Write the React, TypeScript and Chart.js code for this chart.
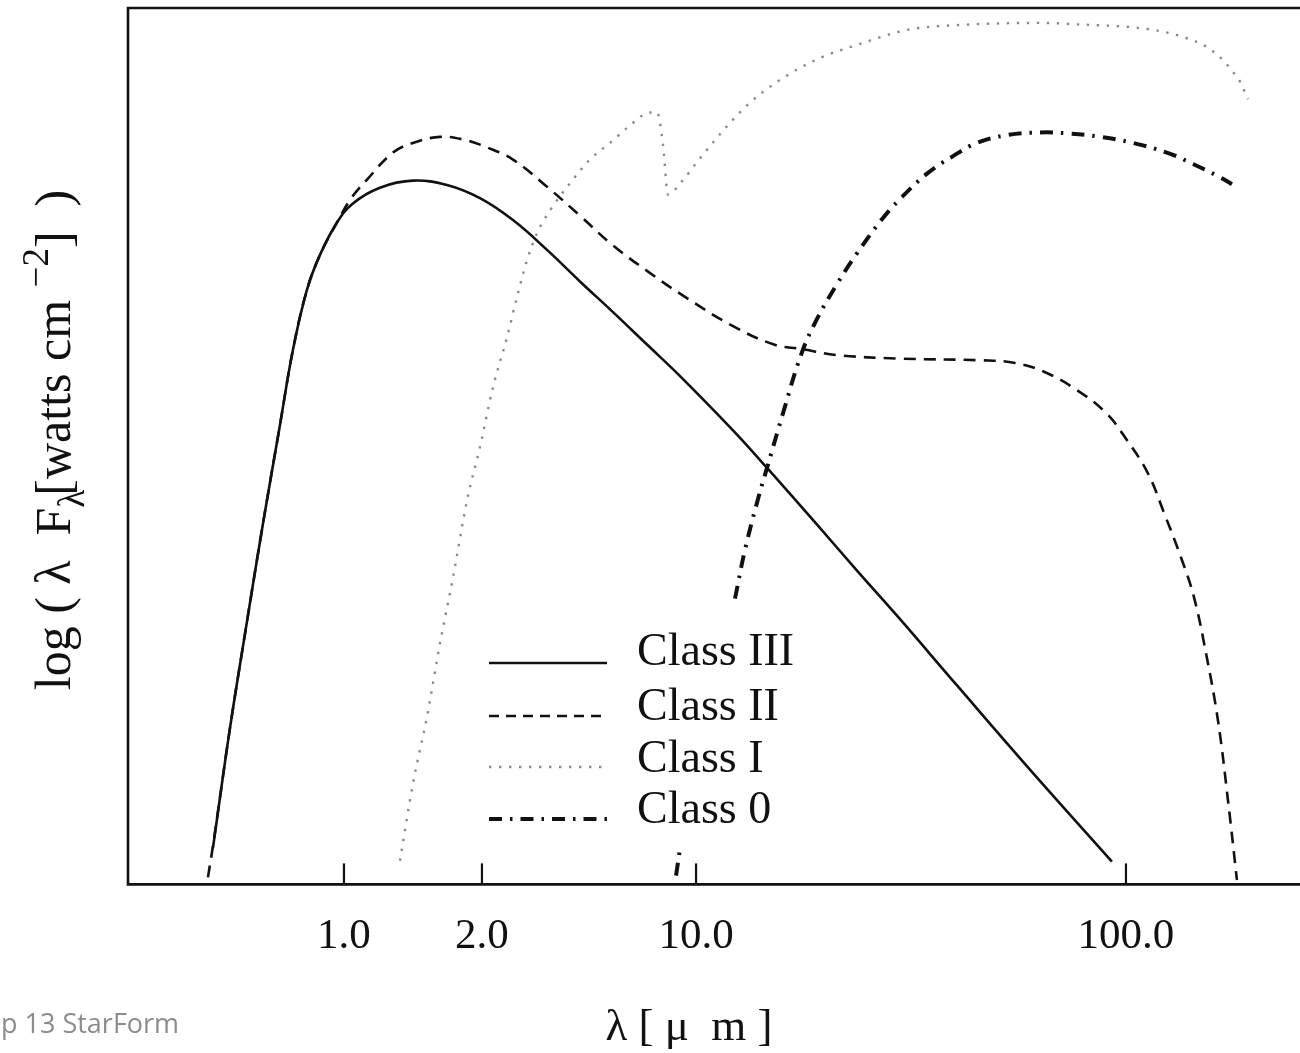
import React, { useEffect, useRef } from 'react';
import { Chart, registerables } from 'chart.js';

Chart.register(...registerables);

// ---------- data ----------
const SERIES_NAMES = ['Class III', 'Class II', 'Class I', 'Class 0'];

// wavelength axis ticks (µm) and their labels
const TICK_VALUES = [1, 2, 10, 100];
const TICK_LABELS = ['1.0', '2.0', '10.0', '100.0'];
// the drawn axis is not a uniform log axis: where each tick sits, in "decades" of the 10–100 interval
const TICK_DECADES = [0, 0.321, 0.819, 1.819];
const X_MIN = 0.338;
const X_MAX = 254;
const Y_MIN = 0;
const Y_MAX = 10;

const CLASS3_X = [0.518, 0.564, 0.614, 0.666, 0.725, 0.774, 0.83, 0.886, 0.965, 1.046, 1.198, 1.414, 1.677, 1.98, 2.525, 3.262, 4.178, 5.356, 6.917, 8.866, 12.19, 14.7, 19.01, 23.68, 29.65, 40.46, 59.8, 92.77];
const CLASS3_Y = [0.42, 1.78, 2.99, 4.12, 5.24, 6.1, 6.78, 7.18, 7.55, 7.77, 7.95, 8.03, 7.98, 7.83, 7.58, 7.24, 6.88, 6.53, 6.16, 5.8, 5.18, 4.74, 4.12, 3.58, 3.04, 2.27, 1.31, 0.26];

const CLASS2_X = [0.505, 0.52, 0.564, 0.614, 0.666, 0.725, 0.774, 0.83, 0.886, 0.965, 1.031, 1.122, 1.279, 1.414, 1.62, 1.818, 2.077, 2.525, 3.262, 4.178, 5.356, 6.917, 8.866, 12.19, 15.18, 17.54, 21.28, 29.65, 46.26, 55.19, 64.46, 76.91, 89.86, 100.5, 112.5, 122.6, 134.3, 143.9, 153.5, 163.7, 172.7, 181.2];
const CLASS2_Y = [0.08, 0.5, 1.78, 2.99, 4.12, 5.24, 6.1, 6.78, 7.18, 7.55, 7.81, 8.04, 8.35, 8.46, 8.53, 8.5, 8.41, 8.27, 7.96, 7.63, 7.29, 7.0, 6.74, 6.37, 6.16, 6.11, 6.04, 6.0, 5.98, 5.95, 5.85, 5.64, 5.38, 5.07, 4.69, 4.24, 3.73, 3.28, 2.64, 1.87, 0.96, 0.05];

const CLASS1_X = [1.325, 1.414, 1.517, 1.62, 1.729, 1.855, 1.98, 2.172, 2.413, 2.602, 2.805, 3.025, 3.336, 3.877, 4.505, 5.356, 6.085, 6.917, 7.456, 7.8, 8.098, 8.93, 10.27, 11.8, 13.21, 15.68, 19.43, 24.06, 30.95, 42.67, 63.1, 79.43, 103.8, 121.9, 135.7, 151.1, 165.4, 177.4, 184.2, 192.2];
const CLASS1_Y = [0.27, 1.15, 1.91, 2.75, 3.5, 4.38, 4.99, 5.67, 6.24, 6.7, 7.12, 7.43, 7.69, 8.0, 8.27, 8.49, 8.66, 8.8, 8.81, 8.44, 7.87, 8.01, 8.3, 8.65, 8.9, 9.18, 9.43, 9.59, 9.75, 9.81, 9.83, 9.81, 9.78, 9.73, 9.67, 9.58, 9.44, 9.27, 9.16, 8.96];

const CLASS0_X = [8.603, 8.866, 10.8, 12.32, 13.0, 13.94, 14.7, 15.94, 17.54, 19.01, 21.28, 23.68, 27.07, 29.82, 34.45, 39.6, 45.03, 52.88, 63.1, 72.91, 87.0, 103.8, 124.5, 143.2, 165.4, 176.4];
const CLASS0_Y: (number | null)[] = [0.1, 0.41, null, 3.26, 3.82, 4.4, 4.79, 5.38, 6.04, 6.43, 6.85, 7.2, 7.59, 7.82, 8.11, 8.31, 8.46, 8.55, 8.58, 8.57, 8.53, 8.46, 8.35, 8.22, 8.07, 7.99];

// ---------- styles ----------
const SERIF = '"Liberation Serif", "Times New Roman", "DejaVu Serif", serif';
const STYLES = [
  { color: '#111111', width: 2.6, dash: [] as number[], legendDash: [] as number[], smooth: 'tension' },
  { color: '#111111', width: 2.6, dash: [12, 8], legendDash: [10, 7], smooth: 'tension' },
  { color: '#8a8a8a', width: 2.4, dash: [2.4, 7.6], legendDash: [2.4, 7.6], smooth: 'monotone' },
  { color: '#111111', width: 4, dash: [13, 8, 2.5, 8], legendDash: [13, 8, 2.5, 8], smooth: 'tension' },
];

// axis warp: log10(λ) -> drawn position, piecewise linear through the ticks
function warp(v: number): number {
  const L = Math.log10(v);
  const lt = TICK_VALUES.map((t) => Math.log10(t));
  const n = lt.length;
  let i = 0;
  if (L >= lt[n - 1]) i = n - 2;
  else if (L > lt[0]) {
    while (i < n - 2 && L > lt[i + 1]) i++;
  }
  const slope = (TICK_DECADES[i + 1] - TICK_DECADES[i]) / (lt[i + 1] - lt[i]);
  return TICK_DECADES[i] + (L - lt[i]) * slope;
}

const decorPlugin = {
  id: 'decor',
  afterDraw(chart: any) {
    const { ctx, chartArea: a, scales } = chart;
    const xs = scales.x;
    ctx.save();
    // frame (top, left, bottom)
    ctx.strokeStyle = '#111111';
    ctx.lineWidth = 2.6;
    ctx.setLineDash([]);
    ctx.beginPath();
    ctx.moveTo(a.right + 2, a.top);
    ctx.lineTo(a.left, a.top);
    ctx.lineTo(a.left, a.bottom);
    ctx.lineTo(a.right + 2, a.bottom);
    ctx.stroke();
    // inward tick marks
    ctx.lineWidth = 2.2;
    TICK_VALUES.forEach((v) => {
      const px = xs.getPixelForValue(warp(v));
      ctx.beginPath();
      ctx.moveTo(px, a.bottom);
      ctx.lineTo(px, a.bottom - 21);
      ctx.stroke();
    });

    // legend
    const lx0 = 489, lx1 = 607, tx = 637;
    const rowY = [663, 716, 767, 819];
    const rowT = [665, 720, 772, 823];
    SERIES_NAMES.forEach((name, i) => {
      const s = STYLES[i];
      ctx.strokeStyle = s.color;
      ctx.lineWidth = s.width;
      ctx.setLineDash(s.legendDash);
      ctx.beginPath();
      ctx.moveTo(lx0, rowY[i]);
      ctx.lineTo(lx1, rowY[i]);
      ctx.stroke();
      ctx.setLineDash([]);
      ctx.fillStyle = '#111111';
      ctx.font = `46px ${SERIF}`;
      ctx.textAlign = 'left';
      ctx.textBaseline = 'alphabetic';
      ctx.fillText(name, tx, rowT[i]);
    });

    // x-axis title
    ctx.fillStyle = '#111111';
    ctx.font = `45px ${SERIF}`;
    ctx.textAlign = 'center';
    ctx.textBaseline = 'alphabetic';
    ctx.fillText('λ [ μ  m ]', 689, 1040);

    // y-axis title (rotated, with sub/superscript)
    const big = `50px ${SERIF}`;
    const small = `37px ${SERIF}`;
    const parts = [
      { t: 'log ( λ  F', f: big, dy: 0, back: 0 },
      { t: 'λ', f: small, dy: 14, back: 6 },
      { t: '[watts cm ', f: big, dy: 0, back: 0 },
      { t: '−2', f: small, dy: -22, back: 0 },
      { t: ']  )', f: big, dy: 0, back: 0 },
    ];
    let total = 0;
    parts.forEach((p) => {
      ctx.font = p.f;
      total += ctx.measureText(p.t).width - p.back;
    });
    ctx.translate(70, 440);
    ctx.rotate(-Math.PI / 2);
    ctx.textAlign = 'left';
    let x = -total / 2;
    parts.forEach((p) => {
      ctx.font = p.f;
      ctx.fillText(p.t, x, p.dy);
      x += ctx.measureText(p.t).width - p.back;
    });
    ctx.restore();

    // footer text
    ctx.save();
    ctx.fillStyle = '#8c8c8c';
    ctx.font = '27px "Open Sans", "Noto Sans", sans-serif';
    ctx.textAlign = 'left';
    ctx.textBaseline = 'alphabetic';
    ctx.fillText('p 13 StarForm', 1, 1033);
    ctx.restore();
  },
};

export default function App() {
  const ref = useRef<HTMLCanvasElement | null>(null);

  useEffect(() => {
    if (!ref.current) return;
    const series = [
      { x: CLASS3_X, y: CLASS3_Y },
      { x: CLASS2_X, y: CLASS2_Y },
      { x: CLASS1_X, y: CLASS1_Y },
      { x: CLASS0_X, y: CLASS0_Y },
    ];
    const datasets = series.map((s, i) => ({
      label: SERIES_NAMES[i],
      data: s.x.map((xv, j) => ({ x: warp(xv), y: s.y[j] })),
      borderColor: STYLES[i].color,
      borderWidth: STYLES[i].width,
      borderDash: STYLES[i].dash,
      pointRadius: 0,
      fill: false,
      cubicInterpolationMode: (STYLES[i].smooth === 'monotone' ? 'monotone' : 'default') as any,
      tension: STYLES[i].smooth === 'monotone' ? 0 : 0.4,
      spanGaps: false,
    }));
    // draw Class III on top
    const chart = new Chart(ref.current, {
      type: 'line',
      data: { datasets: datasets.reverse() as any },
      options: {
        responsive: false,
        animation: false,
        devicePixelRatio: 1,
        parsing: false as any,
        normalized: true,
        layout: { padding: { left: 128, top: 8, right: 0, bottom: 63 } },
        plugins: { legend: { display: false }, tooltip: { enabled: false } },
        scales: {
          x: {
            type: 'linear',
            min: warp(X_MIN),
            max: warp(X_MAX),
            grid: { display: false, drawTicks: false },
            border: { display: false },
            afterBuildTicks: (s: any) => {
              s.ticks = TICK_VALUES.map((v) => ({ value: warp(v) }));
            },
            ticks: {
              autoSkip: false,
              maxRotation: 0,
              padding: 27,
              color: '#111111',
              font: { family: SERIF, size: 43 },
              callback: (_v: any, i: number) => TICK_LABELS[i],
            },
          },
          y: { type: 'linear', display: false, min: Y_MIN, max: Y_MAX },
        },
      },
      plugins: [decorPlugin],
    });
    return () => chart.destroy();
  }, []);

  return (
    <div style={{ position: 'absolute', left: 0, top: 0, width: 1300, height: 1053, background: '#ffffff' }}>
      <canvas ref={ref} width={1300} height={1053} style={{ display: 'block' }} />
    </div>
  );
}
